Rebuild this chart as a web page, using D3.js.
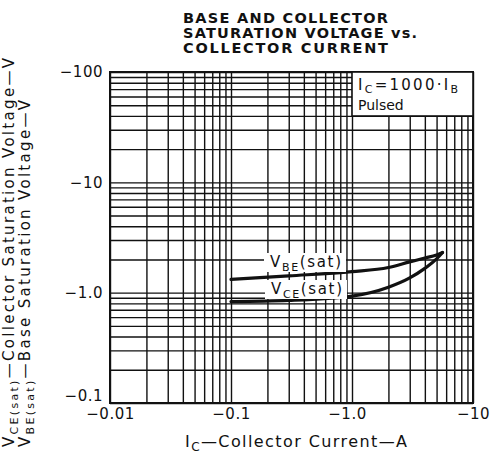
<!DOCTYPE html>
<html>
<head>
<meta charset="utf-8">
<script src="https://cdn.jsdelivr.net/npm/d3@7"></script>
<style>
  body { margin: 0; background: #fff; }
  text { font-family: "DejaVu Sans", sans-serif; fill: #111; }
</style>
</head>
<body>
<div id="chart"></div>
<script>
// chart data
var currentA = [0.1, 0.3, 1.0, 2.0, 3.0, 4.0, 5.0, 5.6];
var vbeSat = [1.32, 1.42, 1.55, 1.69, 1.90, 2.06, 2.20, 2.31];
var vceSat = [0.83, 0.85, 0.93, 1.12, 1.36, 1.66, 2.02, 2.31];

var xTickVals = [0.01, 0.1, 1, 10];
var xTickLabels = ["\u22120.01", "\u22120.1", "\u22121.0", "\u221210"];
var yTickVals = [0.1, 1, 10, 100];
var yTickLabels = ["\u22120.1", "\u22121.0", "\u221210", "\u2212100"];

var svgWidth = 490;
var svgHeight = 453;

var plot = { left: 110, right: 473, top: 72, bottom: 403 };

var svg = d3.select("#chart")
  .append("svg")
  .attr("width", svgWidth)
  .attr("height", svgHeight);

svg.append("rect").attr("width", svgWidth).attr("height", svgHeight).attr("fill", "#fff");

var xScale = d3.scaleLog().domain([0.01, 10]).range([plot.left, plot.right]);
var yScale = d3.scaleLog().domain([0.1, 100]).range([plot.bottom, plot.top]);

// log grid values 1..9 in every decade
function logGrid(lo, hi) {
  var out = [];
  for (var d = lo; d < hi * 0.99; d *= 10) {
    for (var k = 1; k < 10; k++) out.push(d * k);
  }
  out.push(hi);
  return out;
}

var gridX = svg.append("g")
  .attr("transform", "translate(0," + plot.bottom + ")")
  .call(d3.axisBottom(xScale).tickValues(logGrid(0.01, 10)).tickSize(-(plot.bottom - plot.top)).tickFormat(""));
var gridY = svg.append("g")
  .attr("transform", "translate(" + plot.left + ",0)")
  .call(d3.axisLeft(yScale).tickValues(logGrid(0.1, 100)).tickSize(-(plot.right - plot.left)).tickFormat(""));
[gridX, gridY].forEach(function(g) {
  g.select(".domain").remove();
  g.selectAll("line").attr("stroke", "#111").attr("stroke-width", 1.4);
});

// frame
svg.append("rect")
  .attr("x", plot.left).attr("y", plot.top)
  .attr("width", plot.right - plot.left).attr("height", plot.bottom - plot.top)
  .attr("fill", "none").attr("stroke", "#111").attr("stroke-width", 2);

// tick labels
var xAxis = svg.append("g")
  .attr("transform", "translate(0," + plot.bottom + ")")
  .call(d3.axisBottom(xScale).tickValues(xTickVals).tickSize(0).tickPadding(5)
    .tickFormat(function(d, i) { return xTickLabels[i]; }));
xAxis.select(".domain").remove();
xAxis.selectAll("text")
  .attr("font-size", 15).attr("font-family", "DejaVu Sans").attr("fill", "#111")
  .attr("letter-spacing", 0.5)
  .attr("dx", function(d) { return d === 1 ? -5 : 0; });

var yAxis = svg.append("g")
  .attr("transform", "translate(" + plot.left + ",0)")
  .call(d3.axisLeft(yScale).tickValues(yTickVals).tickSize(0).tickPadding(7)
    .tickFormat(function(d, i) { return yTickLabels[i]; }));
yAxis.select(".domain").remove();
yAxis.selectAll("text")
  .attr("font-size", 15).attr("font-family", "DejaVu Sans").attr("fill", "#111")
  .attr("letter-spacing", 0.5)
  .attr("dy", function(d) { return d === 0.1 ? "-0.2em" : "0.32em"; });

// condition box
svg.append("rect")
  .attr("x", xScale(1)).attr("y", plot.top)
  .attr("width", plot.right - xScale(1)).attr("height", 44)
  .attr("fill", "#fff").attr("stroke", "#111").attr("stroke-width", 1.6);
var cond = svg.append("text").attr("x", 358).attr("y", 90).attr("font-size", 15).attr("textLength", 100);
cond.append("tspan").text("I");
cond.append("tspan").attr("font-size", 11).attr("dy", 3).text("C");
cond.append("tspan").attr("dy", -3).text("=1000\u00b7I");
cond.append("tspan").attr("font-size", 11).attr("dy", 3).text("B");
svg.append("text").attr("x", 358).attr("y", 110).attr("font-size", 14).text("Pulsed");

// curves
var line = d3.line()
  .x(function(d) { return xScale(d[0]); })
  .y(function(d) { return yScale(d[1]); })
  .curve(d3.curveMonotoneX);

[vbeSat, vceSat].forEach(function(series) {
  svg.append("path")
    .datum(currentA.map(function(c, i) { return [c, series[i]]; }))
    .attr("fill", "none")
    .attr("stroke", "#111")
    .attr("stroke-width", 3.2)
    .attr("stroke-linecap", "round")
    .attr("d", line);
});

// curve labels with white backing
function curveLabel(x, y, sub) {
  svg.append("rect").attr("x", x - 6).attr("y", y - 14).attr("width", 82).attr("height", 19).attr("fill", "#fff");
  var t = svg.append("text").attr("x", x).attr("y", y).attr("font-size", 15).attr("textLength", 71);
  t.append("tspan").text("V");
  t.append("tspan").attr("font-size", 11).attr("dy", 4).text(sub);
  t.append("tspan").attr("dy", -4).text("(sat)");
}
curveLabel(270, 267, "BE");
curveLabel(271, 294, "CE");

// title
var titleLines = ["BASE AND COLLECTOR", "SATURATION VOLTAGE vs.", "COLLECTOR CURRENT"];
var titleWidths = [205, 234, 205];
svg.append("g").selectAll("text")
  .data(titleLines)
  .enter().append("text")
  .attr("x", 183)
  .attr("y", function(d, i) { return 23 + i * 15; })
  .attr("font-size", 14.5)
  .attr("font-weight", "bold")
  .attr("textLength", function(d, i) { return titleWidths[i]; })
  .text(function(d) { return d; });

// x axis title
var xt = svg.append("text").attr("x", 185).attr("y", 447).attr("font-size", 16).attr("textLength", 222);
xt.append("tspan").text("I");
xt.append("tspan").attr("font-size", 12).attr("dy", 4).text("C");
xt.append("tspan").attr("dy", -4).text("\u2014Collector Current\u2014A");

// y axis titles
function yTitle(x, sub, rest, len) {
  var t = svg.append("text")
    .attr("transform", "translate(" + x + ",447) rotate(-90)")
    .attr("font-size", 15)
    .attr("textLength", len);
  t.append("tspan").text("V");
  t.append("tspan").attr("font-size", 11).attr("dy", 4).text(sub);
  t.append("tspan").attr("dy", -4).text(rest);
}
yTitle(14, "CE(sat)", "\u2014Collector Saturation Voltage\u2014V", 389);
yTitle(30, "BE(sat)", "\u2014Base Saturation Voltage\u2014V", 347);
</script>
</body>
</html>
